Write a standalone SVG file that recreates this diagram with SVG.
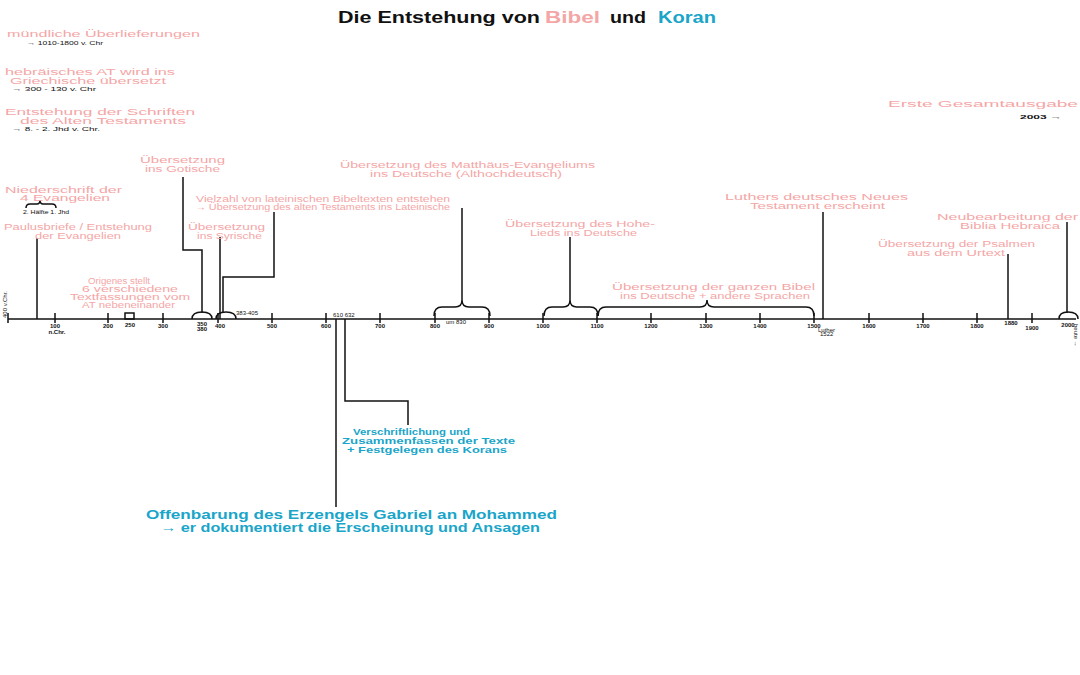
<svg xmlns="http://www.w3.org/2000/svg" width="1080" height="675" viewBox="0 0 1080 675">
<style>
.p{fill:#f4a6a6;font-family:"Liberation Sans",Arial,sans-serif;font-size:8.5px}
.c{fill:#1aa5c9;font-family:"Liberation Sans",Arial,sans-serif;font-weight:bold}
.k{fill:#111;font-family:"Liberation Sans",Arial,sans-serif;font-size:6px}
.t{fill:#111;font-family:"Liberation Sans",Arial,sans-serif;font-size:6px;font-weight:bold;text-anchor:middle}
.ln{stroke:#111;stroke-width:1.5;fill:none}
.br{stroke:#111;stroke-width:1.5;fill:none}
</style>
<rect width="1080" height="675" fill="#fff"/>
<g id="title" font-family="Liberation Sans,Arial,sans-serif" font-size="17" font-weight="bold">
<text x="338" y="23" fill="#111" textLength="202" lengthAdjust="spacingAndGlyphs">Die Entstehung von</text>
<text x="545" y="23" fill="#f4a6a6" textLength="55" lengthAdjust="spacingAndGlyphs">Bibel</text>
<text x="610" y="23" fill="#111" textLength="36" lengthAdjust="spacingAndGlyphs">und</text>
<text x="658" y="23" fill="#1aa5c9" textLength="58" lengthAdjust="spacingAndGlyphs">Koran</text>
</g>
<g id="connectors">
<line class="ln" x1="8" y1="319" x2="1076" y2="319" stroke-width="3"/>
<g id="ticks" stroke="#111" stroke-width="1.5">
<line x1="55" y1="313" x2="55" y2="323"/><line x1="108" y1="313" x2="108" y2="323"/><line x1="163" y1="313" x2="163" y2="323"/><line x1="218" y1="313" x2="218" y2="323"/><line x1="272" y1="313" x2="272" y2="323"/><line x1="326" y1="313" x2="326" y2="323"/><line x1="380" y1="313" x2="380" y2="323"/><line x1="435" y1="313" x2="435" y2="323"/><line x1="489" y1="313" x2="489" y2="323"/><line x1="543" y1="313" x2="543" y2="323"/><line x1="597" y1="313" x2="597" y2="323"/><line x1="651" y1="313" x2="651" y2="323"/><line x1="706" y1="313" x2="706" y2="323"/><line x1="760" y1="313" x2="760" y2="323"/><line x1="814" y1="313" x2="814" y2="323"/><line x1="869" y1="313" x2="869" y2="323"/><line x1="923" y1="313" x2="923" y2="323"/><line x1="977" y1="313" x2="977" y2="323"/><line x1="1032" y1="313" x2="1032" y2="323"/>
<line x1="8" y1="313" x2="8" y2="323"/>
</g>
<polyline class="ln" points="37,238 37,319"/>
<polyline class="ln" points="183,177 183,250 202,250 202,313"/>
<polyline class="ln" points="220,237 220,319"/>
<polyline class="ln" points="274,212 274,277 223,277 223,313"/>
<polyline class="ln" points="462,208 462,300"/>
<polyline class="ln" points="570,237 570,300"/>
<polyline class="ln" points="823,212 823,319"/>
<polyline class="ln" points="1008,254 1008,319"/>
<polyline class="ln" points="1067,222 1067,313"/>
<polyline class="ln" points="336,319 336,507"/>
<polyline class="ln" points="345,319 345,401 408,401 408,425"/>
<path class="br" d="M192,319 Q192,312 202,312 Q212,312 212,319"/>
<path class="br" d="M216,319 Q216,312 226,312 Q236,312 236,319"/>
<path class="br" d="M1059,319 Q1059,312 1068,312 Q1078,312 1078,319"/>
<rect x="125" y="313" width="9" height="6" class="br"/>
<path class="br" d="M434,316 Q434,307 442,307 L455,307 Q462,307 462,300 Q462,307 469,307 L482,307 Q490,307 490,316"/>
<path class="br" d="M544,316 Q544,307 552,307 L563,307 Q570,307 570,300 Q570,307 577,307 L590,307 Q598,307 598,316"/>
<path class="br" d="M598,316 Q598,307 606,307 L700,307 Q707,307 707,300 Q707,307 714,307 L806,307 Q814,307 814,316"/>
<path class="br" d="M26,208 Q26,204 30,204 L37,204 Q40,204 40,200 Q40,204 43,204 L52,204 Q56,204 56,208"/>
</g>
<g id="axis-labels">
<text class="t" x="55" y="328">100</text><text class="t" x="57" y="334" font-size="5">n.Chr.</text>
<text class="t" x="108" y="328">200</text><text class="t" x="130" y="327" font-size="5">250</text>
<text class="t" x="163" y="328">300</text>
<text class="t" x="202" y="326" font-size="5">350</text><text class="t" x="202" y="331" font-size="5">380</text>
<text class="t" x="220" y="328">400</text><text class="k" x="236" y="315" font-size="4">383-405</text>
<text class="t" x="272" y="328">500</text>
<text class="t" x="326" y="328">600</text><text class="k" x="333" y="317" font-size="4">610 632</text>
<text class="t" x="380" y="328">700</text>
<text class="t" x="435" y="328">800</text><text class="k" x="446" y="324" font-size="4">um 830</text>
<text class="t" x="489" y="328">900</text>
<text class="t" x="543" y="328">1000</text>
<text class="t" x="597" y="328">1100</text>
<text class="t" x="651" y="328">1200</text>
<text class="t" x="706" y="328">1300</text>
<text class="t" x="760" y="328">1400</text>
<text class="t" x="814" y="328">1500</text><text class="k" x="818" y="332" font-size="4">Luther</text><text class="k" x="820" y="336" font-size="4">1522</text>
<text class="t" x="869" y="328">1600</text>
<text class="t" x="923" y="328">1700</text>
<text class="t" x="977" y="328">1800</text>
<text class="t" x="1011" y="325" font-size="4">1880</text>
<text class="t" x="1032" y="330">1900</text>
<text class="t" x="1068" y="327" font-size="5">2000</text>
<text class="k" x="0" y="0" font-size="5" transform="translate(7,318) rotate(-90)">400 v.Chr.</text>
<text class="k" x="0" y="0" font-size="5" transform="translate(1074,324) rotate(90)">heute →</text>
</g>
<g id="n-muendlich">
<text class="p" x="7" y="37" font-size="10" textLength="193" lengthAdjust="spacingAndGlyphs">mündliche Überlieferungen</text>
<text class="k" x="27" y="45" textLength="76" lengthAdjust="spacingAndGlyphs">→ 1010-1800 v. Chr</text>
</g>
<g id="n-griechisch">
<text class="p" x="5" y="75" textLength="170" lengthAdjust="spacingAndGlyphs">hebräisches AT wird ins</text>
<text class="p" x="10" y="84" textLength="156" lengthAdjust="spacingAndGlyphs">Griechische übersetzt</text>
<text class="k" x="12" y="91" textLength="84" lengthAdjust="spacingAndGlyphs">→ 300 - 130 v. Chr</text>
</g>
<g id="n-at">
<text class="p" x="5" y="115" textLength="190" lengthAdjust="spacingAndGlyphs">Entstehung der Schriften</text>
<text class="p" x="20" y="124" textLength="166" lengthAdjust="spacingAndGlyphs">des Alten Testaments</text>
<text class="k" x="12" y="131" textLength="88" lengthAdjust="spacingAndGlyphs">→ 8. - 2. Jhd v. Chr.</text>
</g>
<g id="n-gotisch">
<text class="p" x="140" y="163" textLength="85" lengthAdjust="spacingAndGlyphs">Übersetzung</text>
<text class="p" x="145" y="172" textLength="75" lengthAdjust="spacingAndGlyphs">ins Gotische</text>
</g>
<g id="n-evangelien">
<text class="p" x="5" y="193" textLength="117" lengthAdjust="spacingAndGlyphs">Niederschrift der</text>
<text class="p" x="20" y="201" textLength="90" lengthAdjust="spacingAndGlyphs">4 Evangelien</text>
<text class="k" x="23" y="214" font-size="4.5" textLength="46" lengthAdjust="spacingAndGlyphs">2. Hälfte 1. Jhd</text>
</g>
<g id="n-paulus">
<text class="p" x="4" y="230" textLength="148" lengthAdjust="spacingAndGlyphs">Paulusbriefe / Entstehung</text>
<text class="p" x="35" y="239" textLength="86" lengthAdjust="spacingAndGlyphs">der Evangelien</text>
</g>
<g id="n-latein">
<text class="p" x="196" y="202" font-size="6" textLength="254" lengthAdjust="spacingAndGlyphs">Vielzahl von lateinischen Bibeltexten entstehen</text>
<text class="p" x="195" y="210" font-size="6" textLength="255" lengthAdjust="spacingAndGlyphs">→ Übersetzung des alten Testaments ins Lateinische</text>
</g>
<g id="n-syrisch">
<text class="p" x="188" y="230" textLength="77" lengthAdjust="spacingAndGlyphs">Übersetzung</text>
<text class="p" x="197" y="239" textLength="65" lengthAdjust="spacingAndGlyphs">ins Syrische</text>
</g>
<g id="n-origenes">
<text class="p" x="88" y="284" font-size="7" textLength="62" lengthAdjust="spacingAndGlyphs">Origenes stellt</text>
<text class="p" x="82" y="292" font-size="7" textLength="96" lengthAdjust="spacingAndGlyphs">6 verschiedene</text>
<text class="p" x="70" y="300" font-size="7" textLength="120" lengthAdjust="spacingAndGlyphs">Textfassungen vom</text>
<text class="p" x="82" y="308" font-size="7" textLength="93" lengthAdjust="spacingAndGlyphs">AT nebeneinander</text>
</g>
<g id="n-matthaeus">
<text class="p" x="340" y="168" textLength="255" lengthAdjust="spacingAndGlyphs">Übersetzung des Matthäus-Evangeliums</text>
<text class="p" x="370" y="177" textLength="192" lengthAdjust="spacingAndGlyphs">ins Deutsche (Althochdeutsch)</text>
</g>
<g id="n-hoheslied">
<text class="p" x="505" y="227" textLength="150" lengthAdjust="spacingAndGlyphs">Übersetzung des Hohe-</text>
<text class="p" x="530" y="236" textLength="107" lengthAdjust="spacingAndGlyphs">Lieds ins Deutsche</text>
</g>
<g id="n-ganzebibel">
<text class="p" x="612" y="290" textLength="203" lengthAdjust="spacingAndGlyphs">Übersetzung der ganzen Bibel</text>
<text class="p" x="620" y="299" textLength="190" lengthAdjust="spacingAndGlyphs">ins Deutsche + andere Sprachen</text>
</g>
<g id="n-luther">
<text class="p" x="725" y="200" textLength="183" lengthAdjust="spacingAndGlyphs">Luthers deutsches Neues</text>
<text class="p" x="750" y="209" textLength="135" lengthAdjust="spacingAndGlyphs">Testament erscheint</text>
</g>
<g id="n-gesamtausgabe">
<text class="p" x="888" y="107" font-size="10" textLength="190" lengthAdjust="spacingAndGlyphs">Erste Gesamtausgabe</text>
<text class="k" x="1020" y="119" font-size="8" font-weight="bold" textLength="42" lengthAdjust="spacingAndGlyphs">2003 →</text>
</g>
<g id="n-hebraica">
<text class="p" x="937" y="220" textLength="141" lengthAdjust="spacingAndGlyphs">Neubearbeitung der</text>
<text class="p" x="960" y="229" textLength="100" lengthAdjust="spacingAndGlyphs">Biblia Hebraica</text>
</g>
<g id="n-psalmen">
<text class="p" x="878" y="247" textLength="157" lengthAdjust="spacingAndGlyphs">Übersetzung der Psalmen</text>
<text class="p" x="907" y="256" textLength="98" lengthAdjust="spacingAndGlyphs">aus dem Urtext</text>
</g>
<g id="n-koran-text">
<text class="c" x="353" y="435" font-size="9" textLength="117" lengthAdjust="spacingAndGlyphs">Verschriftlichung und</text>
<text class="c" x="342" y="444" font-size="9" textLength="173" lengthAdjust="spacingAndGlyphs">Zusammenfassen der Texte</text>
<text class="c" x="347" y="453" font-size="9" textLength="160" lengthAdjust="spacingAndGlyphs">+ Festgelegen des Korans</text>
</g>
<g id="n-offenbarung">
<text class="c" x="146" y="519" font-size="13" textLength="411" lengthAdjust="spacingAndGlyphs">Offenbarung des Erzengels Gabriel an Mohammed</text>
<text class="c" x="160" y="532" font-size="13" textLength="380" lengthAdjust="spacingAndGlyphs">→ er dokumentiert die Erscheinung und Ansagen</text>
</g>
</svg>
